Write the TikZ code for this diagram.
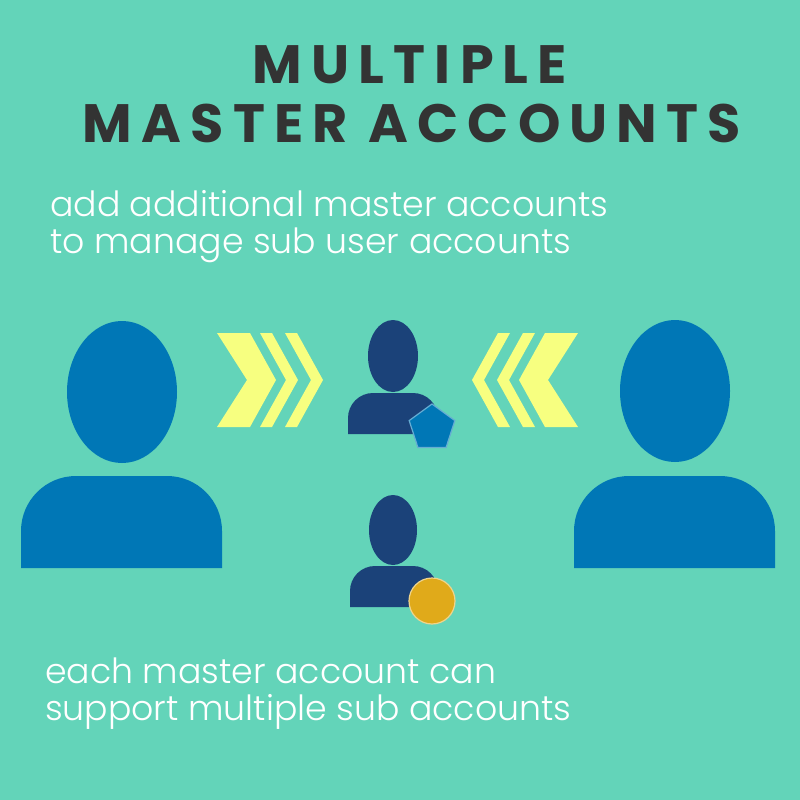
\documentclass[tikz,border=0pt]{standalone}
\usepackage{fontspec}
\usetikzlibrary{shapes.geometric}
\newfontfamily\titlefont[LetterSpace=17]{Poppins Bold}
\newfontfamily\lightfont{Poppins Light}
\definecolor{bg}{HTML}{63D4B9}
\definecolor{bigp}{HTML}{0077B6}
\definecolor{smallp}{HTML}{1B4279}
\definecolor{chev}{HTML}{F7FF80}
\definecolor{gold}{HTML}{E0AA1A}
\definecolor{ttl}{HTML}{333333}
\tikzset{chevron/.style={fill=chev,draw=none},
 big/.style={fill=bigp,draw=none},
 small/.style={fill=smallp,draw=none},
 title/.style={text=ttl,font=\titlefont\fontsize{54}{60}\selectfont,inner sep=0},
 sub/.style={text=white,font=\lightfont\fontsize{34.7}{37}\selectfont,anchor=west,align=left,inner sep=0}}
\begin{document}
\begin{tikzpicture}[x=1pt,y=-1pt]
\fill[bg] (0,0) rectangle (800,800);
\useasboundingbox (0,0) rectangle (800,800);
\node[title] (t1) at (410,65) {MULTIPLE};
\node[title] (t2) at (412,123) {MASTER ACCOUNTS};
\node[sub] (s1) at (50,227) {add additional master accounts\\to manage sub user accounts};
\node[sub] (s2) at (45,694) {each master account can\\support multiple sub accounts};
% big persons
\fill[big] (122,392) ellipse [x radius=55,y radius=71];
\fill[big] (21,568) {[rounded corners=55] -- (21,476) -- (222,476)} -- (222,568) -- cycle;
\fill[big] (675,391) ellipse [x radius=55,y radius=71];
\fill[big] (574,568) {[rounded corners=55] -- (574,476) -- (775,476)} -- (775,568) -- cycle;
% chevrons
\foreach \s/\a/\b/\c/\d in {1/217/250/276/247, 1/260/272/298/286, 1/285/297/323/311}{
 \fill[chevron] (\a,333) -- (\b,333) -- (\c,380) -- (\b,427) -- (\a,427) -- (\d,380) -- cycle;
 \fill[chevron] (795-\a,333) -- (795-\b,333) -- (795-\c,380) -- (795-\b,427) -- (795-\a,427) -- (795-\d,380) -- cycle;}
% small persons
\fill[small] (393,356) ellipse [x radius=25,y radius=36];
\fill[small] (348,434) {[rounded corners=25] -- (348,393) -- (438,393)} -- (438,434) -- cycle;
\node[regular polygon,regular polygon sides=5,minimum size=48,fill=bigp,draw=bigp!60!white,line width=1.2,inner sep=0] (pent) at (432,428) {};
\fill[small] (393,530) ellipse [x radius=24,y radius=35];
\fill[small] (350,607) {[rounded corners=25] -- (350,566) -- (438,566)} -- (438,607) -- cycle;
\node[circle,minimum size=46,fill=gold,draw=gold!50!white,line width=1.2,inner sep=0] (coin) at (432,601) {};
\end{tikzpicture}
\end{document}
